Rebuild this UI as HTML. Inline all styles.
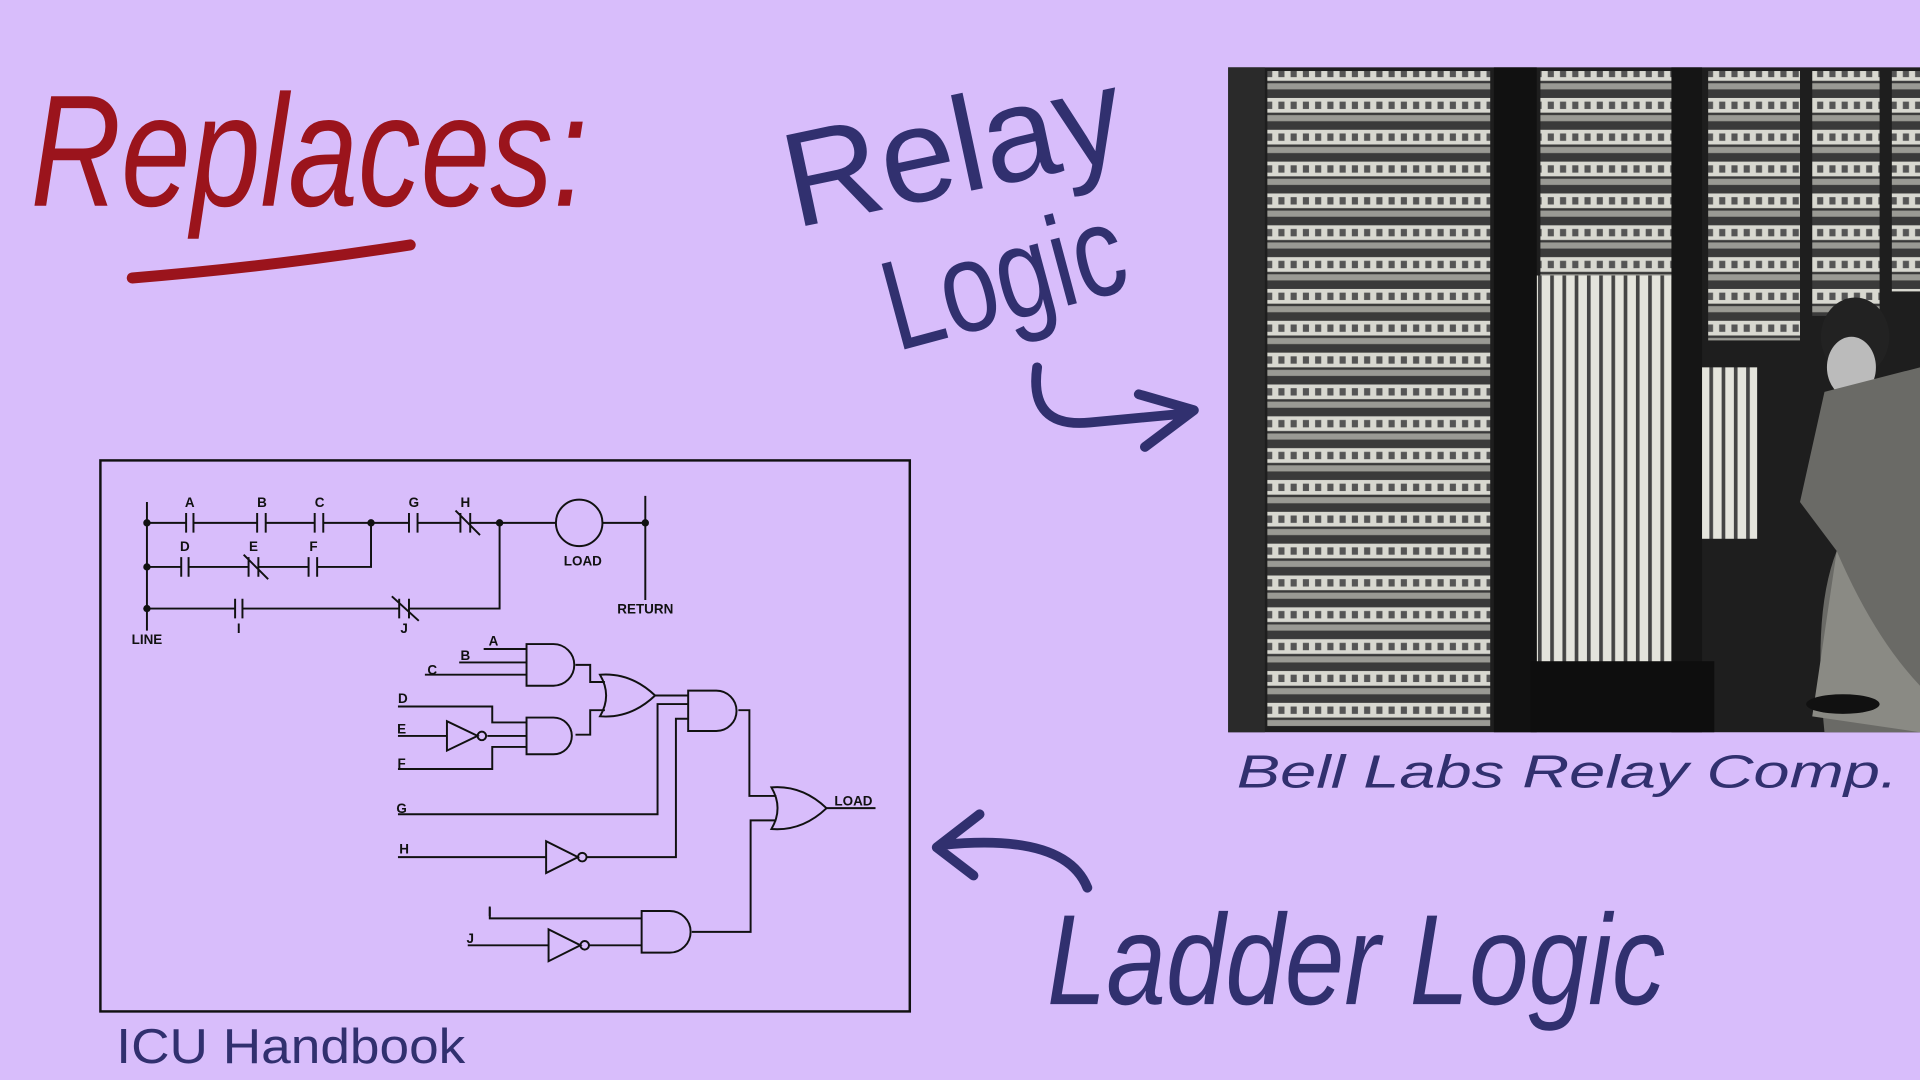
<!DOCTYPE html>
<html><head><meta charset="utf-8"><style>
html,body{margin:0;padding:0;background:#d8bdfb;overflow:hidden}
svg{display:block}
.hw{font-family:"Liberation Sans",sans-serif}
</style></head><body>
<svg width="1920" height="1080" viewBox="0 0 1568 882" xmlns="http://www.w3.org/2000/svg">
<defs>
<pattern id="shelf" width="60" height="26" patternUnits="userSpaceOnUse">
<rect width="60" height="26" fill="#3a3a3a"/>
<rect x="0" y="2" width="60" height="12" fill="#d8d8d0"/>
<rect x="4" y="5" width="5" height="6" fill="#555"/><rect x="14" y="5" width="5" height="6" fill="#555"/>
<rect x="24" y="5" width="5" height="6" fill="#555"/><rect x="34" y="5" width="5" height="6" fill="#555"/>
<rect x="44" y="5" width="5" height="6" fill="#555"/><rect x="54" y="5" width="5" height="6" fill="#555"/>
<rect x="0" y="16" width="60" height="5" fill="#9a9a94"/>
</pattern>
<pattern id="vert" width="10" height="60" patternUnits="userSpaceOnUse">
<rect width="10" height="60" fill="#e4e4dc"/><rect x="6" y="0" width="3" height="60" fill="#444"/>
</pattern>
</defs>
<rect width="1568" height="882" fill="#d8bdfb"/>

<!-- photo -->
<g>
<rect x="1003" y="55" width="565" height="543" fill="#1e1e1e"/>
<rect x="1035" y="58" width="182" height="535" fill="url(#shelf)"/>
<rect x="1258" y="58" width="110" height="170" fill="url(#shelf)"/>
<rect x="1255" y="225" width="110" height="320" fill="url(#vert)"/>
<rect x="1395" y="58" width="75" height="220" fill="url(#shelf)"/>
<rect x="1375" y="300" width="60" height="140" fill="url(#vert)"/>
<rect x="1480" y="58" width="55" height="200" fill="url(#shelf)"/>
<rect x="1545" y="58" width="23" height="180" fill="url(#shelf)"/>
<rect x="1003" y="55" width="30" height="543" fill="#2a2a2a"/>
<rect x="1220" y="55" width="35" height="543" fill="#111"/>
<rect x="1365" y="55" width="25" height="543" fill="#151515"/>
<rect x="1250" y="540" width="150" height="58" fill="#0e0e0e"/>
<!-- man -->
<ellipse cx="1515" cy="275" rx="28" ry="32" fill="#222"/>
<ellipse cx="1512" cy="300" rx="20" ry="25" fill="#bbb"/>
<path d="M1490 320 L1568 300 L1568 598 L1490 598 Q1480 500 1500 450 L1470 410 Z" fill="#6a6a66"/>
<path d="M1500 450 Q1530 520 1568 560 L1568 598 L1480 585 Z" fill="#8a8a84"/>
<ellipse cx="1505" cy="575" rx="30" ry="8" fill="#111"/>
</g>

<!-- handwriting -->
<text x="25" y="168" class="hw" font-size="130" fill="#9b141c" font-style="italic" textLength="455" lengthAdjust="spacingAndGlyphs">Replaces:</text>
<path d="M108 227 Q220 218 335 200" stroke="#9b141c" stroke-width="9" fill="none" stroke-linecap="round"/>
<text x="640" y="160" class="hw" font-size="110" fill="#31306f" transform="rotate(-12 770 130)" textLength="280" lengthAdjust="spacingAndGlyphs">Relay</text>
<text x="720" y="265" class="hw" font-size="105" fill="#31306f" transform="rotate(-15 810 230)" textLength="200" lengthAdjust="spacingAndGlyphs">Logic</text>
<path d="M847 300 Q840 350 890 345 L965 338 M930 322 L975 335 L935 365" stroke="#31306f" stroke-width="8" fill="none" stroke-linecap="round" stroke-linejoin="round"/>
<text x="1010" y="643" class="hw" font-size="38" fill="#31306f" font-style="italic" textLength="540" lengthAdjust="spacingAndGlyphs">Bell Labs Relay Comp.</text>
<text x="855" y="820" class="hw" font-size="105" fill="#31306f" font-style="italic" textLength="505" lengthAdjust="spacingAndGlyphs">Ladder Logic</text>
<path d="M888 725 Q870 680 770 690 M800 665 L765 692 L795 715" stroke="#31306f" stroke-width="8" fill="none" stroke-linecap="round" stroke-linejoin="round"/>
<text x="95" y="868" class="hw" font-size="40" fill="#31306f" textLength="285" lengthAdjust="spacingAndGlyphs">ICU Handbook</text>

<!-- diagram box -->
<rect x="82" y="376" width="661" height="450" fill="none" stroke="#111" stroke-width="2"/>
<g stroke="#111" stroke-width="1.6" fill="none">
<line x1="120" y1="410" x2="120" y2="515"/>
<line x1="527" y1="405" x2="527" y2="490"/>
<path d="M120 427 H152 M158 427 H210 M217 427 H257 M264 427 H334 M341 427 H376 M384 427 H454 M492 427 H527"/>
<path d="M152 419V435 M158 419V435 M210 419V435 M217 419V435 M257 419V435 M264 419V435 M334 419V435 M341 419V435 M376 419V435 M384 419V435 M372 417 L392 437"/>
<circle cx="473" cy="427" r="19"/>
<path d="M120 463 H148 M154 463 H203 M211 463 H252 M259 463 H303 V427"/>
<path d="M148 455V471 M154 455V471 M203 455V471 M211 455V471 M252 455V471 M259 455V471 M199 453 L219 473"/>
<path d="M120 497 H192 M198 497 H326 M334 497 H408 V427"/>
<path d="M192 489V505 M198 489V505 M326 489V505 M334 489V505 M320 487 L342 507"/>
</g>
<g fill="#111">
<circle cx="120" cy="427" r="3"/><circle cx="120" cy="463" r="3"/><circle cx="120" cy="497" r="3"/>
<circle cx="303" cy="427" r="3"/><circle cx="408" cy="427" r="3"/><circle cx="527" cy="427" r="3"/>
</g>
<g font-family="Liberation Sans,sans-serif" font-weight="bold" font-size="11" fill="#111" text-anchor="middle">
<text x="155" y="414">A</text><text x="214" y="414">B</text><text x="261" y="414">C</text>
<text x="338" y="414">G</text><text x="380" y="414">H</text>
<text x="151" y="450">D</text><text x="207" y="450">E</text><text x="256" y="450">F</text>
<text x="195" y="517">I</text><text x="330" y="517">J</text>
<text x="120" y="526">LINE</text><text x="476" y="462">LOAD</text><text x="527" y="501">RETURN</text>
<text x="403" y="527">A</text><text x="380" y="539">B</text><text x="353" y="551">C</text>
<text x="329" y="574">D</text><text x="328" y="599">E</text><text x="328" y="627">F</text>
<text x="328" y="664">G</text><text x="330" y="697">H</text><text x="400" y="748">I</text><text x="384" y="770">J</text>
<text x="697" y="658">LOAD</text>
</g>
<g stroke="#111" stroke-width="1.6" fill="none">
<path d="M430 526 H452 A17 17 0 0 1 452 560 H430 Z"/>
<path d="M395 530 H430 M375 541 H430 M347 551 H430"/>
<path d="M430 586 H452 A15 15 0 0 1 452 616 H430 Z"/>
<path d="M325 577 H402 V590 H430 M325 601 H365 M398 601 H430 M325 628 H402 V610 H430"/>
<path d="M365 589 V613 L390 601 Z"/><circle cx="393.5" cy="601" r="3.5"/>
<path d="M490 551 Q515 549 535 568 Q515 587 490 585 Q500 568 490 551 Z"/>
<path d="M470 543 H482 V557 H494 M470 600 H482 V580 H494 M535 568 H562"/>
<path d="M562 564 H585 A16.5 16.5 0 0 1 585 597 H562 Z"/>
<path d="M325 665 H537 V575 H562 M325 700 H446 M479 700 H552 V587 H562"/>
<path d="M446 687 V713 L472 700 Z"/><circle cx="475.5" cy="700" r="3.5"/>
<path d="M630 643 Q655 641 675 660 Q655 679 630 677 Q640 660 630 643 Z"/>
<path d="M603 580 H612 V650 H634 M565 761 H613 V670 H634 M675 660 H715"/>
<path d="M524 744 H547 A17 17 0 0 1 547 778 H524 Z"/>
<path d="M400 741 V750 H524 M382 772 H448 M481 772 H524"/>
<path d="M448 759 V785 L474 772 Z"/><circle cx="477.5" cy="772" r="3.5"/>
</g>
</svg>
</body></html>
